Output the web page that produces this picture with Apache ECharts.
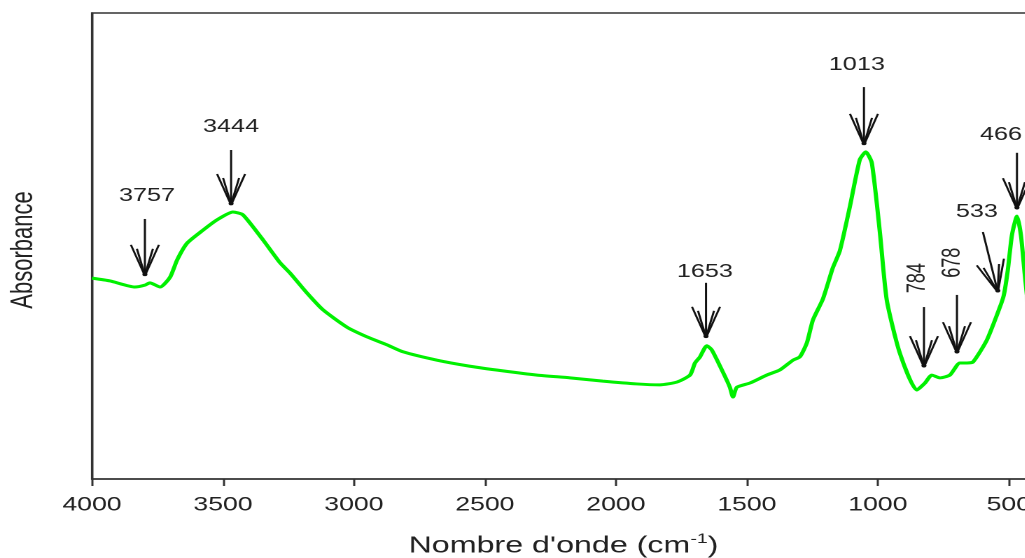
<!DOCTYPE html>
<html>
<head>
<meta charset="utf-8">
<script src="https://cdn.jsdelivr.net/npm/echarts@6/dist/echarts.min.js"></script>
<style>
  html, body { margin: 0; padding: 0; overflow: hidden; background: #fff; width: 1025px; height: 558px; }
  #chart { width: 733px; height: 558px; transform: scaleX(1.4); transform-origin: 0 0; }
</style>
</head>
<body>
<div id="chart"></div>
<script>
// ---- data ----
var wavenumbers = [4000, 3931, 3836, 3798, 3779, 3740, 3702, 3675, 3637, 3576, 3523, 3462, 3424, 3347, 3282, 3244, 3179, 3118, 3027, 2950, 2874, 2813, 2683, 2557, 2431, 2301, 2175, 2050, 1920, 1832, 1767, 1717, 1698, 1679, 1653, 1634, 1592, 1565, 1553, 1538, 1488, 1424, 1374, 1324, 1298, 1271, 1248, 1210, 1172, 1145, 1107, 1069, 1046, 1023, 992, 966, 916, 851, 820, 794, 763, 725, 687, 660, 637, 584, 534, 519, 504, 488, 469, 454, 439, 420, 400];
var absorbance = [43.1, 42.5, 41.2, 41.6, 42.1, 41.2, 43.3, 47.0, 50.6, 53.4, 55.6, 57.3, 56.7, 51.3, 46.4, 44.2, 39.9, 36.3, 32.6, 30.5, 28.8, 27.3, 25.5, 24.2, 23.2, 22.3, 21.7, 21.0, 20.4, 20.2, 20.8, 22.3, 24.9, 26.2, 28.6, 27.7, 23.0, 19.7, 17.6, 19.7, 20.6, 22.3, 23.4, 25.5, 26.2, 29.2, 34.1, 38.6, 45.3, 49.0, 58.4, 68.5, 70.2, 67.8, 52.8, 38.4, 27.0, 19.1, 20.6, 22.3, 21.7, 22.3, 24.9, 24.9, 25.1, 29.8, 36.9, 39.5, 44.8, 52.4, 56.4, 52.4, 43.8, 34.1, 29.8];

var xRange = [400, 4000];
var xTickValues = [4000, 3500, 3000, 2500, 2000, 1500, 1000, 500];

// peak annotations
var peakLabels   = ['3757', '3444', '1653', '1013', '784', '678', '533', '466'];
var arrowTipWn   = [3798, 3469, 1656, 1053, 824, 698, 542, 469];
var arrowTipAbs  = [43.6, 58.8, 30.3, 71.7, 24.0, 27.0, 40.1, 57.9];
var arrowTailWn  = [3798, 3469, 1656, 1053, 824, 698, 599, 469];
var arrowTailAbs = [55.8, 70.6, 42.1, 84.1, 36.9, 39.5, 53.0, 70.0];
var labelWn      = [3790, 3469, 1660, 1080, 847, 714, 622, 530];
var labelAbs     = [60.7, 75.5, 44.4, 88.8, 43.1, 46.4, 57.3, 73.8];
var verticalLabels = ['784', '678'];

// ---- chart ----
var S = 1.4; // horizontal stretch of the original picture
var FONT = "'Liberation Sans', Arial, sans-serif";
var chart = echarts.init(document.getElementById('chart'), null, { renderer: 'canvas', devicePixelRatio: 2 });

var lineData = wavenumbers.map(function (w, i) { return [w, absorbance[i]]; });
var annData = peakLabels.map(function (l, i) {
  return [arrowTipWn[i], arrowTipAbs[i], arrowTailWn[i], arrowTailAbs[i], labelWn[i], labelAbs[i]];
});

function renderArrow(params, api) {
  var i = params.dataIndex;
  var tip = api.coord([api.value(0), api.value(1)]);
  var tail = api.coord([api.value(2), api.value(3)]);
  var lab = api.coord([api.value(4), api.value(5)]);
  var tx = tip[0] * S, ty = tip[1], ax = tail[0] * S, ay = tail[1];
  var dx = tx - ax, dy = ty - ay, L = Math.sqrt(dx * dx + dy * dy);
  var ux = dx / L, uy = dy / L, nx = -uy, ny = ux;
  function P(back, side) { return [(tx - ux * back + nx * side) / S, ty - uy * back + ny * side]; }
  var st = { stroke: '#111', lineWidth: 1.5, fill: null };
  function seg(a, b) { return { type: 'line', shape: { x1: a[0], y1: a[1], x2: b[0], y2: b[1] }, style: st }; }
  var T = [tip[0], tip[1]];
  var vert = verticalLabels.indexOf(peakLabels[i]) >= 0;
  return {
    type: 'group',
    children: [
      seg([tail[0], tail[1]], T),
      seg(P(31, 14), T),
      seg(P(31, -14), T),
      seg(P(27, 8), P(4, 1)),
      seg(P(27, -8), P(4, -1)),
      { type: 'circle', shape: { cx: tip[0], cy: tip[1] - 1.5, r: 1.8 }, style: { fill: '#111' } },
      {
        type: 'text', x: lab[0], y: lab[1], rotation: vert ? Math.PI / 2 : 0,
        style: { text: peakLabels[i], fontSize: 18, fontFamily: FONT, fill: '#222', align: 'center', verticalAlign: 'middle' }
      }
    ]
  };
}

chart.setOption({
  animation: false,
  backgroundColor: '#fff',
  grid: {
    left: 65.7, right: -6.3, top: 13, bottom: 79,
    outerBoundsMode: 'none', containLabel: false,
    show: true, borderColor: '#333', borderWidth: 1.5, backgroundColor: 'transparent'
  },
  xAxis: {
    type: 'value', inverse: true,
    min: xRange[0], max: xRange[1],
    name: "Nombre d'onde (cm{sup|-1})",
    nameLocation: 'middle', nameGap: 53,
    nameTextStyle: {
      fontSize: 23, fontFamily: FONT, color: '#222', lineHeight: 28,
      rich: { sup: { fontSize: 14, fontFamily: FONT, color: '#222', lineHeight: 14, verticalAlign: 'top' } }
    },
    axisLine: { show: true, lineStyle: { color: '#333', width: 1.5 } },
    axisTick: { show: true, length: 7, customValues: xTickValues, lineStyle: { color: '#333', width: 1.5 } },
    axisLabel: {
      fontSize: 19, fontFamily: FONT, color: '#222', margin: 17,
      customValues: xTickValues,
      formatter: function (v) { return String(v); }
    },
    splitLine: { show: false }
  },
  yAxis: {
    type: 'value', min: 0, max: 100,
    name: 'Absorbance', nameLocation: 'middle', nameGap: 38,
    nameTextStyle: { fontSize: 22, fontFamily: FONT, color: '#222', padding: [0, 8, 0, 0] },
    axisLine: { show: true, lineStyle: { color: '#333', width: 1.5 } },
    axisTick: { show: false }, axisLabel: { show: false }, splitLine: { show: false }
  },
  series: [
    {
      type: 'line', data: lineData, showSymbol: false, smooth: 0.2,
      lineStyle: { color: '#00f000', width: 3 }, z: 2
    },
    {
      type: 'custom', data: annData, renderItem: renderArrow, z: 3, clip: false,
      encode: { x: 0, y: 1 }
    }
  ]
});
</script>
</body>
</html>
